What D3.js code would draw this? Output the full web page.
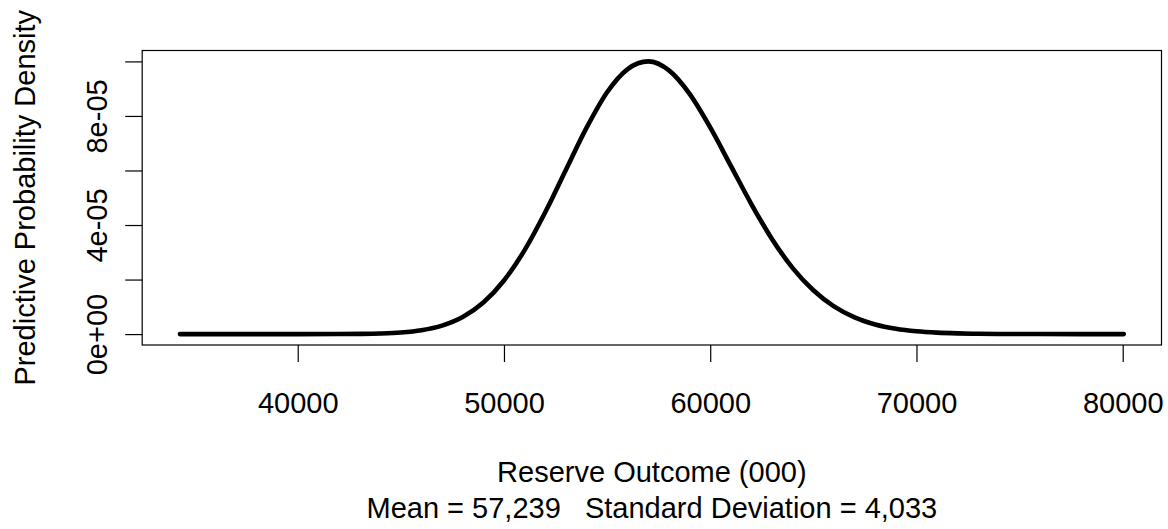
<!DOCTYPE html>
<html>
<head>
<meta charset="utf-8">
<script src="https://cdn.jsdelivr.net/npm/d3@7"></script>
<style>
  html, body { margin: 0; padding: 0; background: #ffffff; }
  svg { display: block; }
  text { font-family: "Liberation Sans", Arial, sans-serif; fill: #000; }
</style>
</head>
<body>
<svg id="chart" width="1168" height="529"></svg>
<script>
// ---- data ----
const reserveX = [34290, 36000, 38000, 40000, 42000, 43000, 44000, 45000, 46000, 47000,
  48000, 49000, 50000, 51000, 52000, 53000, 54000, 55000, 56000, 57000,
  58000, 59000, 60000, 61000, 62000, 63000, 64000, 65000, 66000, 67000,
  68000, 69000, 70000, 71000, 72000, 73000, 74000, 75000, 76000, 78000, 80050];
const densityY = [0, 0, 0, 0.0000000014, 0.000000022, 0.000000073, 0.000000219, 0.000000581, 0.000001408, 0.00000311,
  0.00000625, 0.00001156, 0.00001966, 0.00003079, 0.00004468, 0.0000602, 0.0000756, 0.0000887, 0.0000972, 0.0001,
  0.0000967, 0.0000881, 0.0000758, 0.0000617, 0.0000476, 0.0000348, 0.0000242, 0.00001606, 0.00001015, 0.00000612,
  0.00000354, 0.00000196, 0.00000104, 0.00000053, 0.00000026, 0.00000012, 0.000000055, 0.000000024, 0.00000001, 0, 0];
const xTickValues = [40000, 50000, 60000, 70000, 80000];
const xTickLabels = ["40000", "50000", "60000", "70000", "80000"];
const yTickValues = [0, 0.00002, 0.00004, 0.00006, 0.00008, 0.0001];
const yTickLabels = ["0e+00", "", "4e-05", "", "8e-05", ""];
const xAxisTitle = "Reserve Outcome (000)";
const subTitle = "Mean = 57,239   Standard Deviation = 4,033";
const yAxisTitle = "Predictive Probability Density";

// ---- layout ----
const plot = { left: 142.2, right: 1161.5, top: 50.5, bottom: 345 };
const fontSize = 29;
const svg = d3.select("#chart");

const points = reserveX.map((x, i) => ({ x: x, y: densityY[i] }));

// R-style 4% axis extension
function rExtend(ext) {
  const d = (ext[1] - ext[0]) * 0.04;
  return [ext[0] - d, ext[1] + d];
}
const x = d3.scaleLinear().domain(rExtend(d3.extent(reserveX))).range([plot.left, plot.right]);
const y = d3.scaleLinear().domain(rExtend([0, d3.max(densityY)])).range([plot.bottom, plot.top]);

// curve
const line = d3.line().x(d => x(d.x)).y(d => y(d.y)).curve(d3.curveMonotoneX);
svg.append("path")
  .datum(points)
  .attr("d", line)
  .attr("fill", "none")
  .attr("stroke", "#000")
  .attr("stroke-width", 4.6)
  .attr("stroke-linecap", "round")
  .attr("stroke-linejoin", "round");

// box
svg.append("rect")
  .attr("x", plot.left).attr("y", plot.top)
  .attr("width", plot.right - plot.left).attr("height", plot.bottom - plot.top)
  .attr("fill", "none").attr("stroke", "#000").attr("stroke-width", 1.2);

// x axis
const xAxis = svg.append("g")
  .attr("transform", `translate(0,${plot.bottom})`)
  .call(d3.axisBottom(x).tickValues(xTickValues)
    .tickFormat((d, i) => xTickLabels[i]).tickSize(17).tickSizeOuter(0));
xAxis.select(".domain").remove();
xAxis.selectAll(".tick line").attr("stroke", "#000").attr("stroke-width", 1.2);
xAxis.selectAll(".tick text")
  .attr("y", 413 - plot.bottom).attr("dy", 0)
  .style("font-size", fontSize + "px")
  .style("font-family", '"Liberation Sans", Arial, sans-serif')
  .attr("fill", "#000");

// y axis
const yAxis = svg.append("g")
  .attr("transform", `translate(${plot.left},0)`)
  .call(d3.axisLeft(y).tickValues(yTickValues)
    .tickFormat((d, i) => yTickLabels[i]).tickSize(17).tickSizeOuter(0));
yAxis.select(".domain").remove();
yAxis.selectAll(".tick line").attr("stroke", "#000").attr("stroke-width", 1.2);
yAxis.selectAll(".tick text")
  .attr("x", 0).attr("y", 0).attr("dy", 0)
  .attr("text-anchor", "middle")
  .attr("transform", `translate(${106.5 - plot.left},0) rotate(-90)`)
  .style("font-size", fontSize + "px")
  .style("font-family", '"Liberation Sans", Arial, sans-serif')
  .attr("fill", "#000");

// titles
const cx = (plot.left + plot.right) / 2;
svg.append("text")
  .attr("x", cx).attr("y", 481.5)
  .attr("text-anchor", "middle")
  .style("font-size", fontSize + "px")
  .text(xAxisTitle);
svg.append("text")
  .attr("x", cx).attr("y", 518.3)
  .attr("text-anchor", "middle")
  .style("font-size", fontSize + "px")
  .style("white-space", "pre")
  .attr("xml:space", "preserve")
  .text(subTitle);
svg.append("text")
  .attr("transform", `translate(35,${(plot.top + plot.bottom) / 2}) rotate(-90)`)
  .attr("text-anchor", "middle")
  .style("font-size", fontSize + "px")
  .text(yAxisTitle);
</script>
</body>
</html>
